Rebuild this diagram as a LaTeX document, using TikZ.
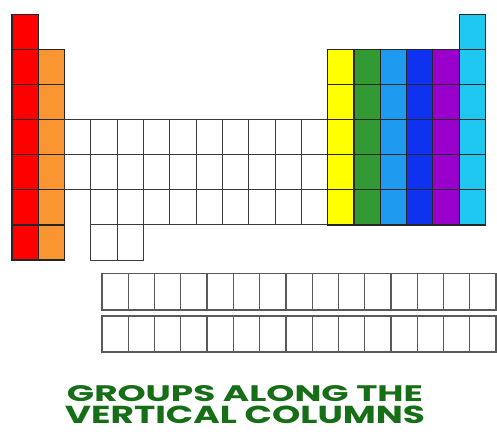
\documentclass[tikz,border=0pt]{standalone}
\usepackage{fontspec}
\newfontfamily\capfont{Poppins}
\usepackage{graphicx}
\definecolor{cRed}{HTML}{FF0000}
\definecolor{cOrange}{HTML}{FA9632}
\definecolor{cYellow}{HTML}{FFFF00}
\definecolor{cGreen}{HTML}{339933}
\definecolor{cLBlue}{HTML}{1E9BF0}
\definecolor{cBlue}{HTML}{0F32F0}
\definecolor{cPurple}{HTML}{9900CC}
\definecolor{cCyan}{HTML}{1EC8F0}
\definecolor{cText}{HTML}{166E16}
\definecolor{cLine}{HTML}{3A3A3A}
\tikzset{
  colcell/.style={draw=black!85, line width=1.2pt},
  whitecell/.style={draw=cLine, line width=1.0pt, fill=white},
  lancell/.style={draw=black!65, line width=1.3pt, fill=white},
  caption/.style={text=cText, anchor=base, inner sep=0pt, font=\capfont\bfseries}
}
\def\W{26.3}
\def\H{35.1}
\def\XO{12}
\def\YO{14.3}
\newcommand{\pcell}[3]{%
  \filldraw[#3] ({\XO+#1*\W},{\YO+#2*\H}) rectangle ({\XO+#1*\W+\W},{\YO+#2*\H+\H});}
\begin{document}
\begin{tikzpicture}[x=1pt,y=-1pt]
\useasboundingbox[fill=white] (0,0) rectangle (497,440);
% group 1 and 2
\foreach \r in {0,...,6} {\pcell{0}{\r}{colcell,fill=cRed}}
\foreach \r in {1,...,6} {\pcell{1}{\r}{colcell,fill=cOrange}}
% transition block
\foreach \c in {3,...,11} {\foreach \r in {3,4,5} {\pcell{\c}{\r}{whitecell}}}
\foreach \r in {3,4} {\pcell{2}{\r}{whitecell}}
\foreach \c in {3,4} {\pcell{\c}{6}{whitecell}}
% p block
\foreach \r in {1,...,5} {
  \pcell{12}{\r}{colcell,fill=cYellow}
  \pcell{13}{\r}{colcell,fill=cGreen}
  \pcell{14}{\r}{colcell,fill=cLBlue}
  \pcell{15}{\r}{colcell,fill=cBlue}
  \pcell{16}{\r}{colcell,fill=cPurple}
}
\foreach \r in {0,...,5} {\pcell{17}{\r}{colcell,fill=cCyan}}
% lanthanides / actinides
\foreach \c in {0,...,14} {
  \filldraw[lancell] ({102+\c*26.27},273.5) rectangle ({102+\c*26.27+26.27},310);
  \filldraw[lancell] ({102+\c*26.27},316) rectangle ({102+\c*26.27+26.27},352);
}
% caption
\node[caption] (l1) at (245,401) {\resizebox{356pt}{16pt}{GROUPS ALONG THE}};
\node[caption] (l2) at (245,423) {\resizebox{360pt}{17.5pt}{VERTICAL COLUMNS}};
\end{tikzpicture}
\end{document}
